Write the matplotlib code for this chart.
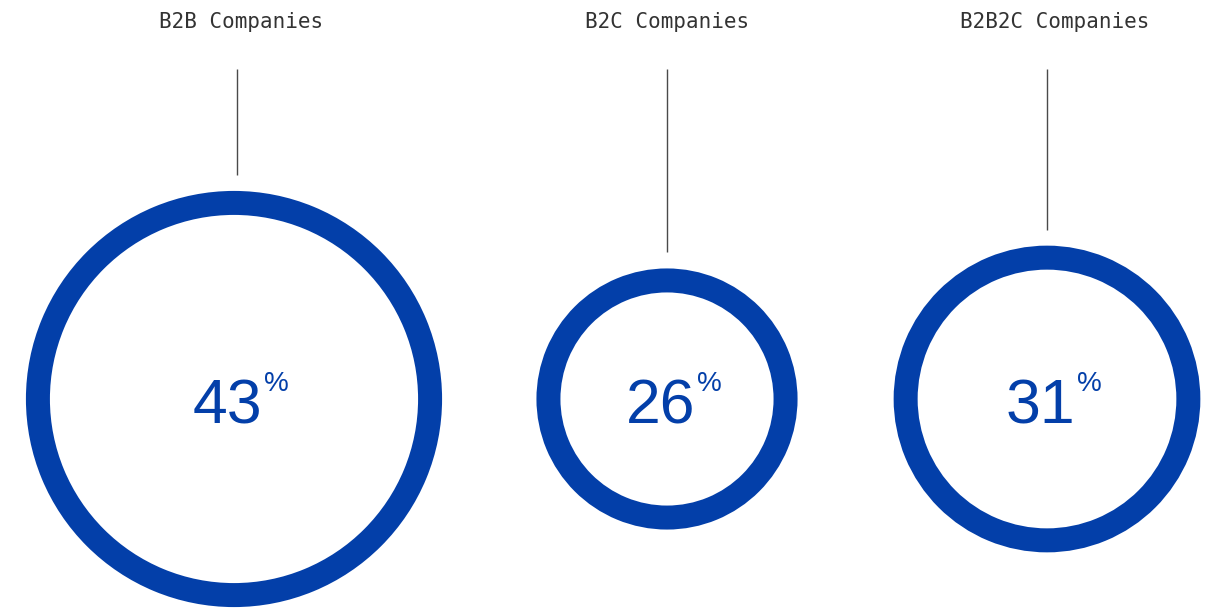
import matplotlib.pyplot as plt
from matplotlib.patches import Wedge

categories = ['B2B Companies', 'B2C Companies', 'B2B2C Companies']
shares = [43, 26, 31]

# layout, in pixels of the 1207x608 canvas
centre_x = [234, 667, 1047]
stem_x = [237, 667, 1047]
label_x = [241, 667, 1055]
centre_y = 399
px_per_pct = 4.56   # ring centreline radius per percentage point
ring_w = 24
stem_top = 69
stem_gap = 16

blue = '#033fa9'
grey = '#333333'

fig = plt.figure(figsize=(12.07, 6.08), dpi=100)
ax = fig.add_axes([0, 0, 1, 1])
ax.set_xlim(0, 1207)
ax.set_ylim(608, 0)
ax.axis('off')

for cat, share, cx, sx, lx in zip(categories, shares, centre_x, stem_x, label_x):
    r_out = share * px_per_pct + ring_w / 2
    ax.add_patch(Wedge((cx, centre_y), r_out, 0, 360, width=ring_w,
                       facecolor=blue, edgecolor='none'))
    ax.plot([sx, sx], [stem_top, centre_y - r_out - stem_gap],
            color='#4a4a4a', lw=1, solid_capstyle='butt')
    ax.text(lx, 28, cat, family='DejaVu Sans Mono', fontsize=15,
            color=grey, ha='center', va='baseline')
    ax.text(cx + 28, 423, str(share), family='Liberation Sans', fontsize=45,
            color=blue, ha='right', va='baseline')
    ax.text(cx + 30, 371, '%', family='Liberation Sans', fontsize=20,
            color=blue, ha='left', va='top')

fig.savefig('out.png', dpi=100)
